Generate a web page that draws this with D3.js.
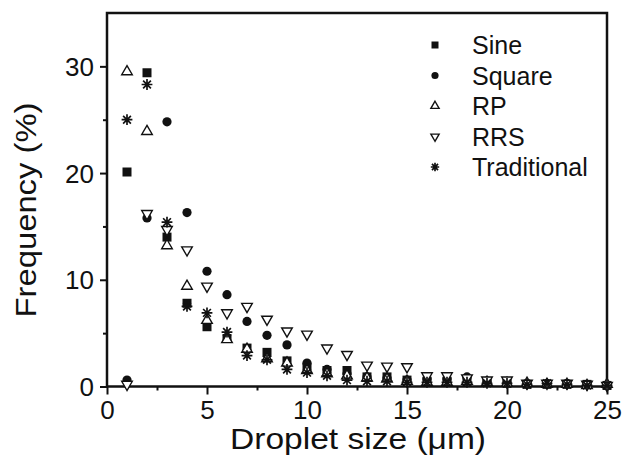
<!DOCTYPE html>
<html>
<head>
<meta charset="utf-8">
<script src="https://cdn.jsdelivr.net/npm/d3@7"></script>
<style>
  body { margin: 0; background: #fff; }
  text { font-family: "Liberation Sans", Arial, sans-serif; fill: #111; }
</style>
</head>
<body>
<div id="chart"></div>
<script>
var sizes = d3.range(1, 26);
var sine = [20.1, 29.4, 14.0, 7.8, 5.6, 4.5, 3.6, 3.2, 2.4, 1.8, 1.5, 1.5, 0.9, 0.9, 0.6, 0.5, 0.5, 0.5, 0.4, 0.3, 0.2, 0.2, 0.2, 0.2, 0.1];
var square = [0.6, 15.8, 24.8, 16.3, 10.8, 8.6, 6.1, 4.8, 3.9, 2.2, 1.6, 1.2, 0.9, 0.8, 0.6, 0.7, 0.7, 0.9, 0.5, 0.4, 0.3, 0.3, 0.3, 0.2, 0.1];
var rp = [29.5, 23.9, 13.2, 9.4, 6.2, 4.4, 3.5, 2.6, 2.2, 1.5, 1.2, 1.0, 0.8, 0.7, 0.5, 0.4, 0.4, 0.5, 0.4, 0.3, 0.3, 0.2, 0.2, 0.1, 0.2];
var rrs = [0.2, 16.2, 14.7, 12.8, 9.4, 6.9, 7.5, 6.3, 5.2, 4.9, 3.6, 3.0, 2.0, 1.9, 1.85, 1.0, 1.0, 0.8, 0.6, 0.6, 0.3, 0.3, 0.3, 0.2, 0.1];
var traditional = [25.0, 28.3, 15.4, 7.5, 6.9, 5.1, 2.9, 2.5, 1.6, 1.3, 1.0, 0.6, 0.5, 0.5, 0.4, 0.4, 0.4, 0.4, 0.3, 0.3, 0.2, 0.3, 0.2, 0.1, 0.1];

var seriesNames = ["Sine", "Square", "RP", "RRS", "Traditional"];
var seriesValues = [sine, square, rp, rrs, traditional];
var markers = ["square", "circle", "up", "down", "star"];

var xTicks = [0, 5, 10, 15, 20, 25];
var xMinor = [2.5, 7.5, 12.5, 17.5, 22.5];
var yTicks = [0, 10, 20, 30];
var yMinor = [5, 15, 25];

function drawChart() {
  var width = 626, height = 466;
  var plotLeft = 107, plotRight = 607, plotTop = 13, plotBottom = 386.5;

  var svg = d3.select("#chart")
    .append("svg")
    .attr("width", width)
    .attr("height", height);

  var x = d3.scaleLinear().domain([0, 25]).range([plotLeft, plotRight]);
  var y = d3.scaleLinear().domain([0, 35]).range([plotBottom, plotTop]);

  // minor ticks first, then major axes with labels
  svg.append("g")
    .attr("transform", "translate(0," + plotBottom + ")")
    .call(d3.axisBottom(x).tickValues(xMinor).tickSize(4).tickSizeOuter(0).tickFormat(""));
  svg.append("g")
    .attr("transform", "translate(" + plotLeft + ",0)")
    .call(d3.axisLeft(y).tickValues(yMinor).tickSize(4).tickSizeOuter(0).tickFormat(""));

  svg.append("g")
    .attr("transform", "translate(0," + plotBottom + ")")
    .call(d3.axisBottom(x).tickValues(xTicks).tickSize(8).tickSizeOuter(0).tickPadding(6));
  var yAxis = svg.append("g")
    .attr("transform", "translate(" + plotLeft + ",0)")
    .call(d3.axisLeft(y).tickValues(yTicks).tickSize(7).tickSizeOuter(0).tickPadding(6));

  svg.selectAll(".tick line").attr("stroke", "#111").attr("stroke-width", 2);
  svg.selectAll(".domain").attr("stroke", "none");
  svg.selectAll(".tick text")
    .style("font-size", "26px")
    .style("font-family", "Liberation Sans, Arial, sans-serif")
    .attr("fill", "#111");
  yAxis.selectAll(".tick text").attr("dy", "0.35em");

  // frame
  svg.append("rect")
    .attr("x", plotLeft)
    .attr("y", plotTop)
    .attr("width", plotRight - plotLeft)
    .attr("height", plotBottom - plotTop)
    .attr("fill", "none")
    .attr("stroke", "#111")
    .attr("stroke-width", 2.5);

  // marker shapes
  function markerPath(kind, s) {
    if (kind === "square") return d3.symbol(d3.symbolSquare, s * s)();
    if (kind === "circle") return d3.symbol(d3.symbolCircle, Math.PI * s * s / 4 * 1.05)();
    if (kind === "up" || kind === "down") return d3.symbol(d3.symbolTriangle, s * s * 0.6)();
    var r = s * 0.6, d = r * 0.72, p = "";
    p += "M0," + (-r) + "L0," + r;
    p += "M" + (-r) + ",0L" + r + ",0";
    p += "M" + (-d) + "," + (-d) + "L" + d + "," + d;
    p += "M" + (-d) + "," + d + "L" + d + "," + (-d);
    return p;
  }

  function drawMarker(g, kind, s) {
    var path = g.append("path").attr("d", markerPath(kind, s));
    if (kind === "square" || kind === "circle") {
      path.attr("fill", "#111").attr("stroke", "none");
    } else if (kind === "star") {
      path.attr("fill", "none").attr("stroke", "#111").attr("stroke-width", 1.7);
    } else {
      path.attr("fill", "#fff").attr("stroke", "#111").attr("stroke-width", 1.4);
      if (kind === "down") path.attr("transform", "rotate(180)");
    }
  }

  // data points
  seriesValues.forEach(function (vals, i) {
    var g = svg.append("g").attr("class", "series-" + i);
    vals.forEach(function (v, j) {
      var pt = g.append("g")
        .attr("transform", "translate(" + x(sizes[j]) + "," + y(v) + ")");
      drawMarker(pt, markers[i], 9);
    });
  });

  // legend
  var legend = svg.append("g").attr("class", "legend");
  seriesNames.forEach(function (name, i) {
    var row = legend.append("g")
      .attr("transform", "translate(435," + (45 + i * 30.5) + ")");
    drawMarker(row, markers[i], 7);
    row.append("text")
      .attr("x", 37)
      .attr("y", 9)
      .style("font-size", "25px")
      .text(name);
  });

  // axis titles (the original lettering is wider than Liberation Sans)
  svg.append("text")
    .attr("x", 358)
    .attr("y", 449)
    .attr("text-anchor", "middle")
    .attr("textLength", 256)
    .attr("lengthAdjust", "spacingAndGlyphs")
    .style("font-size", "29px")
    .text("Droplet size (\u03bcm)");

  svg.append("text")
    .attr("transform", "translate(36,210) rotate(-90)")
    .attr("text-anchor", "middle")
    .attr("textLength", 215)
    .attr("lengthAdjust", "spacingAndGlyphs")
    .style("font-size", "29px")
    .text("Frequency (%)");
}

drawChart();
</script>
</body>
</html>
